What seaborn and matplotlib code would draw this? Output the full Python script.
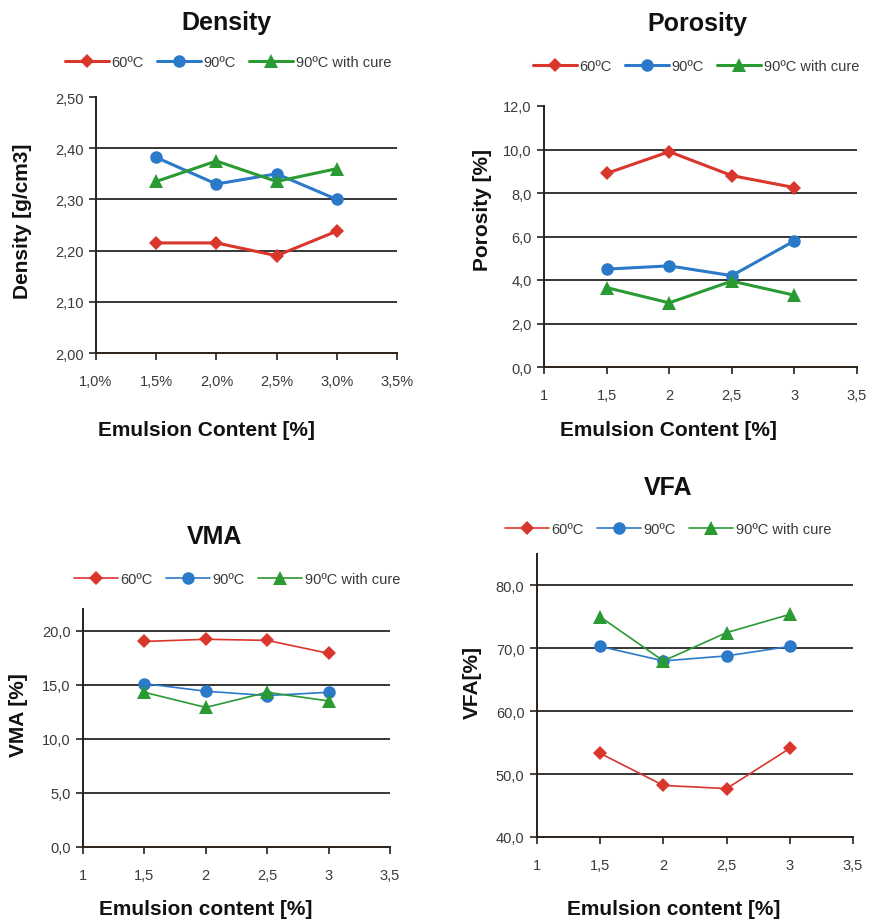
import matplotlib
matplotlib.use("Agg")
import matplotlib.pyplot as plt
import pandas as pd
import seaborn as sns

# data
emulsion = [1.5, 2.0, 2.5, 3.0]
series_names = ["60ºC", "90ºC", "90ºC with cure"]

density_60 = [2.215, 2.215, 2.190, 2.238]
density_90 = [2.382, 2.330, 2.350, 2.300]
density_cure = [2.335, 2.375, 2.335, 2.360]

porosity_60 = [8.9, 9.9, 8.8, 8.25]
porosity_90 = [4.5, 4.65, 4.2, 5.8]
porosity_cure = [3.65, 2.95, 3.95, 3.3]

vma_60 = [19.0, 19.2, 19.1, 17.9]
vma_90 = [15.1, 14.4, 14.0, 14.3]
vma_cure = [14.3, 12.9, 14.3, 13.5]

vfa_60 = [53.3, 48.2, 47.7, 54.1]
vfa_90 = [70.3, 68.0, 68.8, 70.3]
vfa_cure = [75.0, 68.0, 72.5, 75.4]

x_ticks = [1.0, 1.5, 2.0, 2.5, 3.0, 3.5]
x_labels_pct = ["1,0%", "1,5%", "2,0%", "2,5%", "3,0%", "3,5%"]
x_labels_num = ["1", "1,5", "2", "2,5", "3", "3,5"]

density_ticks = [2.0, 2.1, 2.2, 2.3, 2.4, 2.5]
density_labels = ["2,00", "2,10", "2,20", "2,30", "2,40", "2,50"]
porosity_ticks = [0, 2, 4, 6, 8, 10, 12]
porosity_labels = ["0,0", "2,0", "4,0", "6,0", "8,0", "10,0", "12,0"]
vma_ticks = [0, 5, 10, 15, 20]
vma_labels = ["0,0", "5,0", "10,0", "15,0", "20,0"]
vfa_ticks = [40, 50, 60, 70, 80]
vfa_labels = ["40,0", "50,0", "60,0", "70,0", "80,0"]

palette = {"60ºC": "#d9362c", "90ºC": "#2b79c9", "90ºC with cure": "#2a9a32"}
markers = {"60ºC": "D", "90ºC": "o", "90ºC with cure": "^"}
msizes = {"60ºC": 7, "90ºC": 9, "90ºC with cure": 10}

W, H = 869, 920
sns.set_theme(style="white")
plt.rcParams['font.family'] = ['Liberation Sans', 'DejaVu Sans']

fig = plt.figure(figsize=(W / 100, H / 100), dpi=100)


def fx(x):
    return x / W


def fy(y):
    return 1 - y / H


def panel(box, s60, s90, scure, yticks, ylabels, ylim, xlabels, lw,
          title, title_xy, ylabel, ylabel_xy, xlabel, xlabel_xy, leg_xy, top_grid):
    l, t, r, b = box
    ax = fig.add_axes([fx(l), fy(b), (r - l) / W, (b - t) / H])
    df = pd.DataFrame({
        "x": emulsion * 3,
        "y": s60 + s90 + scure,
        "series": [series_names[0]] * 4 + [series_names[1]] * 4 + [series_names[2]] * 4,
    })
    for name in series_names:
        sub = df[df["series"] == name]
        sns.lineplot(data=sub, x="x", y="y", ax=ax, color=palette[name],
                     marker=markers[name], markersize=msizes[name],
                     markeredgewidth=0, lw=lw, label=name, legend=False)
    grid = yticks[1:] if top_grid else yticks[1:-1]
    for v in grid:
        ax.axhline(v, color="black", lw=1.1, zorder=0)
    ax.set_xlim(1.0, 3.5)
    ax.set_ylim(*ylim)
    ax.set_xticks(x_ticks)
    ax.set_xticklabels(xlabels)
    ax.set_yticks(yticks)
    ax.set_yticklabels(ylabels)
    ax.tick_params(axis="both", direction="out", length=5, width=1.2, color="#2a2018",
                   labelsize=10.5, labelcolor="#3a3a3a", bottom=True, left=True)
    ax.tick_params(axis="x", pad=10)
    ax.tick_params(axis="y", pad=4)
    for side in ["top", "right"]:
        ax.spines[side].set_visible(False)
    for side in ["left", "bottom"]:
        ax.spines[side].set_color("#2a2018")
        ax.spines[side].set_linewidth(1.4)
    ax.set_xlabel("")
    ax.set_ylabel("")
    fig.text(fx(title_xy[0]), fy(title_xy[1]), title, ha="center", va="center",
             fontsize=18, fontweight="bold", color="#111111")
    fig.text(fx(ylabel_xy[0]), fy(ylabel_xy[1]), ylabel, ha="center", va="center",
             rotation=90, fontsize=15, fontweight="bold", color="#111111")
    fig.text(fx(xlabel_xy[0]), fy(xlabel_xy[1]), xlabel, ha="center", va="center",
             fontsize=15, fontweight="bold", color="#111111")
    handles, labels = ax.get_legend_handles_labels()
    ax.legend(handles, labels, loc="center", bbox_to_anchor=(fx(leg_xy[0]), fy(leg_xy[1])),
              bbox_transform=fig.transFigure, ncol=3, frameon=False, fontsize=10.5,
              handlelength=3.0, handletextpad=0.2, columnspacing=0.9,
              labelcolor="#3a3a3a")
    return ax


panel((96, 98, 397, 354), density_60, density_90, density_cure,
      density_ticks, density_labels, (2.0, 2.5), x_labels_pct, 2.2,
      "Density", (226, 23), "Density [g/cm3]", (23, 221),
      "Emulsion Content [%]", (206, 430), (228, 63), False)

panel((544, 107, 857, 368), porosity_60, porosity_90, porosity_cure,
      porosity_ticks, porosity_labels, (0, 12), x_labels_num, 2.2,
      "Porosity", (697, 24), "Porosity [%]", (482, 210),
      "Emulsion Content [%]", (668, 430), (696, 67), False)

panel((83, 610, 390, 848), vma_60, vma_90, vma_cure,
      vma_ticks, vma_labels, (0, 22), x_labels_num, 1.2,
      "VMA", (215, 537), "VMA [%]", (18, 715),
      "Emulsion content [%]", (206, 910), (237, 580), True)

panel((537, 555, 853, 838), vfa_60, vfa_90, vfa_cure,
      vfa_ticks, vfa_labels, (40, 85), x_labels_num, 1.2,
      "VFA", (668, 488), "VFA[%]", (472, 683),
      "Emulsion content [%]", (674, 910), (668, 530), True)

fig.savefig("out.png", dpi=100, facecolor="white")
